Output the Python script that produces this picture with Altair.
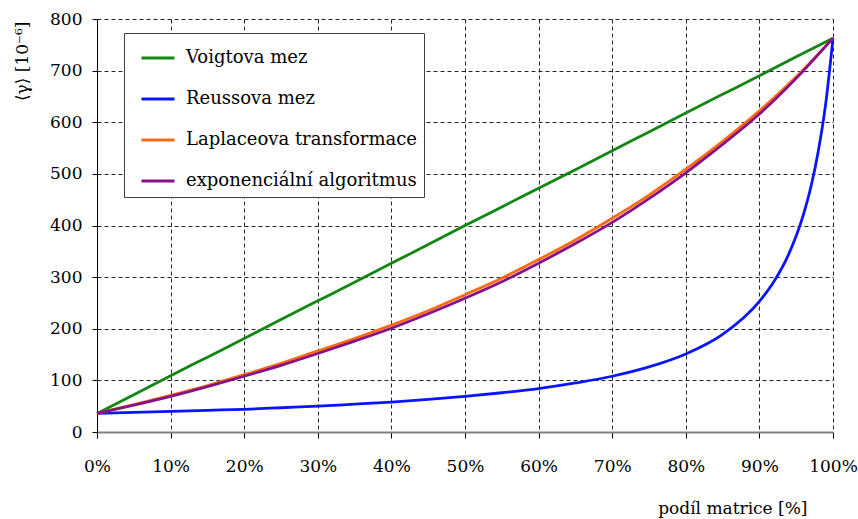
import altair as alt
import pandas as pd

# matrix fraction [%] and effective value <gamma> [1e-6] for each estimate
x_main = [0, 5, 10, 15, 20, 25, 30, 35, 40, 45, 50, 55, 60, 65, 70, 75, 80, 85, 90, 95, 100]
voigt = [36, 72, 109, 145, 181, 218, 254, 290, 327, 363, 400, 436, 472, 508, 545, 581, 618, 654, 690, 727, 763]
laplace = [36, 53, 71, 90, 111, 133, 157, 181, 207, 235, 266, 298, 334, 372, 414, 459, 509, 563, 622, 688, 763]
expo = [36, 52, 69, 88, 108, 129, 152, 176, 201, 229, 259, 291, 327, 365, 406, 452, 502, 557, 616, 685, 763]

x_reuss = [0, 5, 10, 15, 20, 25, 30, 35, 40, 45, 50, 55, 60, 65, 70, 75, 80, 85, 90, 92, 94, 96, 97, 98, 99, 100]
reuss = [36, 38, 40, 42, 44, 47, 50, 54, 58, 63, 69, 76, 84, 95, 108, 126, 151, 189, 253, 292, 345, 422, 475, 544, 635, 763]

names = ["Voigtova mez", "Reussova mez", "Laplaceova transformace", "exponenciální algoritmus"]
colors = ["#128612", "#0a14ff", "#ff6a10", "#85128a"]

rows = []
for name, xs, ys in [
    (names[0], x_main, voigt),
    (names[1], x_reuss, reuss),
    (names[2], x_main, laplace),
    (names[3], x_main, expo),
]:
    for i, (xv, yv) in enumerate(zip(xs, ys)):
        rows.append({"f": xv, "g": yv, "serie": name, "order": i})
df = pd.DataFrame(rows)

FONT = "DejaVu Serif"
FS = 17

common_axis = dict(
    labelFont=FONT,
    titleFont=FONT,
    labelFontSize=FS,
    titleFontSize=FS,
    titleFontWeight="normal",
    labelColor="black",
    titleColor="black",
    tickColor="black",
    gridColor="black",
    gridDash=[4, 3],
    gridWidth=1,
    gridOpacity=0.85,
    labelFlush=False,
    labelOverlap=False,
    labelBound=False,
)

chart = (
    alt.Chart(df)
    .mark_line(strokeWidth=2.8, interpolate="monotone")
    .encode(
        x=alt.X(
            "f:Q",
            scale=alt.Scale(domain=[0, 100], nice=False),
            axis=alt.Axis(
                title="podíl matrice [%]",
                values=list(range(0, 101, 10)),
                labelExpr="datum.value + '%'",
                labelPadding=20,
                tickSize=6,
                domainColor="#808080",
                domainWidth=2,
                titleAnchor="start",
                titleAlign="right",
                titleBaseline="middle",
                titleX=710,
                titleY=76,
                **common_axis,
            ),
        ),
        y=alt.Y(
            "g:Q",
            scale=alt.Scale(domain=[0, 800], nice=False),
            axis=alt.Axis(
                title="⟨γ⟩ [10⁻⁶]",
                values=list(range(0, 801, 100)),
                labelPadding=10,
                tickSize=5,
                domainColor="#000000",
                domainWidth=1,
                titleAngle=-90,
                titleAlign="right",
                titleBaseline="middle",
                titleX=-75,
                titleY=2,
                **common_axis,
            ),
        ),
        color=alt.Color(
            "serie:N",
            scale=alt.Scale(domain=names, range=colors),
            sort=names,
            legend=alt.Legend(
                title=None,
                orient="none",
                legendX=27,
                legendY=14,
                symbolType="stroke",
                symbolSize=1089,
                symbolStrokeWidth=2.8,
                symbolOffset=9,
                labelOffset=10,
                rowPadding=14,
                padding=7,
                fillColor="white",
                strokeColor="#404040",
                labelFontSize=18,
                labelFont=FONT,
                labelColor="black",
                labelLimit=400,
            ),
        ),
        detail="serie:N",
        order="order:Q",
    )
    .properties(
        width=736,
        height=413,
        background="white",
        autosize=alt.AutoSizeParams(type="none"),
        padding={"left": 97, "top": 19, "right": 25, "bottom": 87},
    )
    .configure_view(stroke=None)
)

chart.save("out.html", embed_options={"renderer": "svg", "actions": False})
